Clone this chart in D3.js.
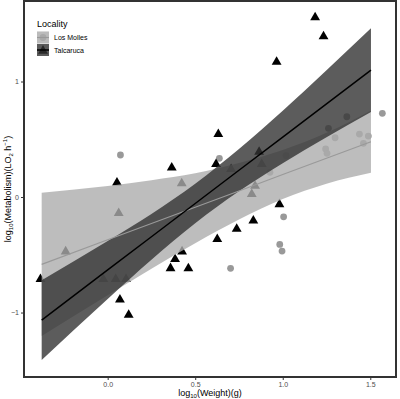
<!DOCTYPE html>
<html>
<head>
<meta charset="utf-8">
<script src="https://cdn.jsdelivr.net/npm/d3@7"></script>
<style>
  body { margin: 0; background: #fff; }
  svg { display: block; font-family: "Liberation Sans", Arial, sans-serif; }
</style>
</head>
<body>
<svg id="chart"></svg>
<script>
// Los Molles points (circles)
const molX = [0.073, 0.638, 0.927, 1.019, 1.245, 1.253, 1.261, 1.366, 1.299, 1.438, 1.489, 1.461, 1.569, 1.005, 0.983, 0.996, 0.702];
const molY = [0.364, 0.335, 0.214, 0.359, 0.416, 0.378, 0.595, 0.695, 0.513, 0.545, 0.528, 0.465, 0.725, -0.171, -0.410, -0.468, -0.617];

// Talcaruca points (triangles)
const talX = [1.185, 1.233, 0.965, 0.632, 0.619, 0.865, 0.705, 0.880, 0.366, 0.053, 0.423, 0.842, 0.823, 0.063, -0.240,
  -0.384, -0.025, 0.046, 0.105, 0.070, 0.120, 0.359, 0.385, 0.425, 0.461, 0.626, 0.737, 0.832, 0.981];
const talY = [1.561, 1.398, 1.177, 0.552, 0.292, 0.398, 0.248, 0.292, 0.262, 0.132, 0.124, 0.104, 0.032, -0.132, -0.465,
  -0.704, -0.704, -0.704, -0.704, -0.881, -1.013, -0.610, -0.531, -0.465, -0.612, -0.357, -0.270, -0.197, -0.056];

// fitted lines and confidence bands
const bandX = [-0.377, 0, 0.25, 0.5, 0.75, 1.0, 1.25, 1.504];
const molFit = [-0.583, -0.370, -0.229, -0.088, 0.053, 0.195, 0.336, 0.479];
const molLo = [-1.203, -0.85, -0.62, -0.40, -0.195, -0.017, 0.116, 0.21];
const molHi = [0.037, 0.095, 0.145, 0.205, 0.295, 0.407, 0.556, 0.75];
const talFit = [-1.065, -0.631, -0.344, -0.056, 0.232, 0.519, 0.807, 1.099];
const talLo = [-1.41, -0.882, -0.542, -0.227, 0.049, 0.292, 0.517, 0.737];
const talHi = [-0.72, -0.38, -0.146, 0.115, 0.415, 0.746, 1.097, 1.461];

const xTicks = [0, 0.5, 1.0, 1.5];
const yTicks = [-1, 0, 1];

const width = 400;
const height = 399;
const panel = { left: 24, right: 396, top: 1, bottom: 377 };

const svg = d3.select("#chart").attr("width", width).attr("height", height);

const x = d3.scaleLinear().domain([-0.478, 1.647]).range([panel.left, panel.right]);
const y = d3.scaleLinear().domain([-1.558, 1.697]).range([panel.bottom, panel.top]);

const molFill = "#adadad", talFill = "#333333", bandAlpha = 0.8;

svg.append("rect")
  .attr("x", panel.left).attr("y", panel.top)
  .attr("width", panel.right - panel.left).attr("height", panel.bottom - panel.top)
  .attr("fill", "#fff");

// points first, ribbons go over them
const mol = molX.map((d, i) => ({ x: d, y: molY[i] }));
const tal = talX.map((d, i) => ({ x: d, y: talY[i] }));

svg.append("g").selectAll("circle").data(mol).join("circle")
  .attr("cx", d => x(d.x)).attr("cy", d => y(d.y)).attr("r", 3.4)
  .attr("fill", "#999999");

const tri = d3.symbol().type(d3.symbolTriangle).size(42);
svg.append("g").selectAll("path").data(tal).join("path")
  .attr("transform", d => `translate(${x(d.x)},${y(d.y) + 0.8})`)
  .attr("d", tri)
  .attr("fill", "#000");

// ribbons
const band = (lo, hi) => d3.area()
  .x((d, i) => x(bandX[i]))
  .y0((d, i) => y(lo[i]))
  .y1((d, i) => y(hi[i]))
  .curve(d3.curveMonotoneX)(bandX);

svg.append("path").attr("d", band(molLo, molHi))
  .attr("fill", molFill).attr("fill-opacity", bandAlpha);
svg.append("path").attr("d", band(talLo, talHi))
  .attr("fill", talFill).attr("fill-opacity", bandAlpha);

const fitLine = vals => d3.line()
  .x((d, i) => x(bandX[i]))
  .y((d, i) => y(vals[i]))(bandX);

svg.append("path").attr("d", fitLine(molFit))
  .attr("fill", "none").attr("stroke", "#999999").attr("stroke-width", 1.1);
svg.append("path").attr("d", fitLine(talFit))
  .attr("fill", "none").attr("stroke", "#000").attr("stroke-width", 1.5);

// axes
const xAxis = svg.append("g")
  .attr("transform", `translate(0,${panel.bottom})`)
  .call(d3.axisBottom(x).tickValues(xTicks).tickFormat(d3.format(".1f")).tickSize(3).tickPadding(2));
const yAxis = svg.append("g")
  .attr("transform", `translate(${panel.left},0)`)
  .call(d3.axisLeft(y).tickValues(yTicks).tickFormat(d3.format("d")).tickSize(3).tickPadding(2));

[xAxis, yAxis].forEach(a => {
  a.select(".domain").remove();
  a.selectAll(".tick line").attr("stroke", "#333");
  a.selectAll(".tick text").attr("fill", "#4d4d4d").style("font-size", "7px")
    .style("font-family", "Liberation Sans, Arial, sans-serif");
});

// panel border
svg.append("rect")
  .attr("x", panel.left).attr("y", panel.top)
  .attr("width", panel.right - panel.left).attr("height", panel.bottom - panel.top)
  .attr("fill", "none").attr("stroke", "#333").attr("stroke-width", 2);

// axis titles
const xt = svg.append("text")
  .attr("x", (panel.left + panel.right) / 2).attr("y", 396)
  .attr("text-anchor", "middle").style("font-size", "9px").attr("fill", "#000");
xt.append("tspan").text("log");
xt.append("tspan").text("10").style("font-size", "6px").attr("dy", 2);
xt.append("tspan").text("(Weight)(g)").attr("dy", -2);

const yt = svg.append("text")
  .attr("transform", `translate(11,${(panel.top + panel.bottom) / 2}) rotate(-90)`)
  .attr("text-anchor", "middle").style("font-size", "9px").attr("fill", "#000");
yt.append("tspan").text("log");
yt.append("tspan").text("10").style("font-size", "6px").attr("dy", 2);
yt.append("tspan").text("(Metabolism)(LO").attr("dy", -2);
yt.append("tspan").text("2").style("font-size", "6px").attr("dy", 2);
yt.append("tspan").text(" h").attr("dy", -2);
yt.append("tspan").text("\u22121").style("font-size", "6px").attr("dy", -4);
yt.append("tspan").text(")").attr("dy", 4);

// legend
const localities = ["Los Molles", "Talcaruca"];
const leg = svg.append("g").attr("transform", "translate(37,0)");
leg.append("text").attr("x", 0).attr("y", 27).text("Locality")
  .style("font-size", "9px").attr("fill", "#000");

const keys = leg.selectAll("g.key").data(localities).join("g")
  .attr("class", "key")
  .attr("transform", (d, i) => `translate(0,${31.5 + i * 12.5})`);
keys.append("rect").attr("width", 12).attr("height", 12).attr("fill", "#f2f2f2");
keys.each(function (d, i) {
  const k = d3.select(this);
  if (i === 0) {
    k.append("circle").attr("cx", 6).attr("cy", 6).attr("r", 3.4).attr("fill", "#999999");
  } else {
    k.append("path").attr("transform", "translate(6,6.8)").attr("d", tri).attr("fill", "#000");
  }
  k.append("rect").attr("width", 12).attr("height", 12)
    .attr("fill", i === 0 ? molFill : talFill).attr("fill-opacity", bandAlpha);
  k.append("line").attr("x1", 0).attr("x2", 12).attr("y1", 6).attr("y2", 6)
    .attr("stroke", i === 0 ? "#999999" : "#000").attr("stroke-width", i === 0 ? 1.1 : 1.5);
});
keys.append("text").attr("x", 17).attr("y", 8.5).text(d => d)
  .style("font-size", "7px").attr("fill", "#000");
</script>
</body>
</html>
